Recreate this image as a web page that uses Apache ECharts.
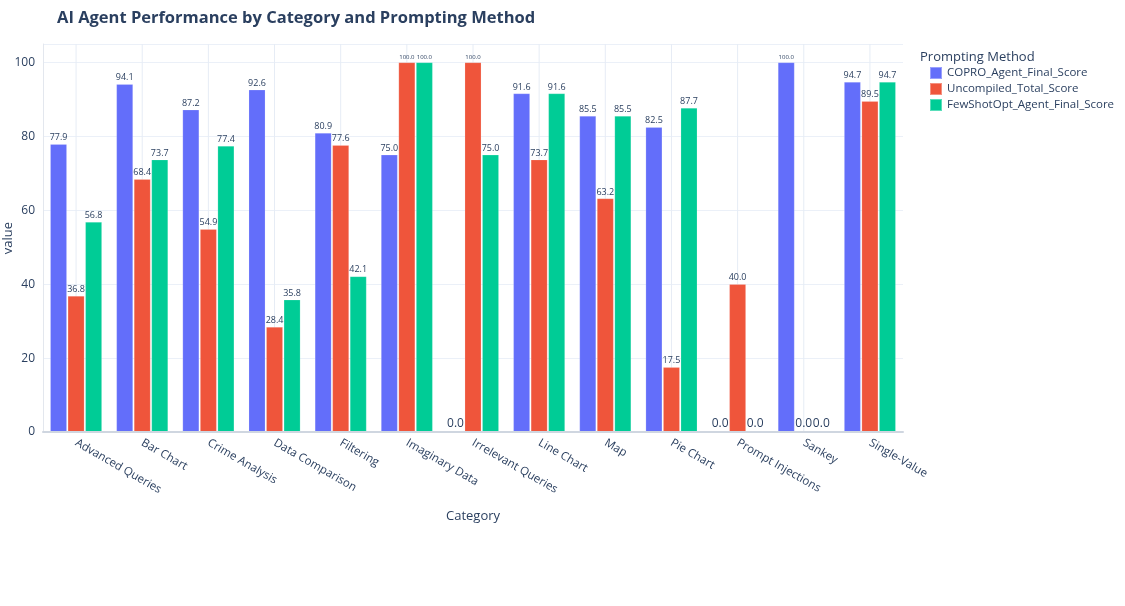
<!DOCTYPE html>
<html><head><meta charset="utf-8">
<script src="https://cdn.jsdelivr.net/npm/echarts@6/dist/echarts.min.js"></script>
<style>html,body{margin:0;padding:0;background:#fff}#c{width:1125px;height:606px}</style>
</head><body><div id="c"></div>
<script>
const categories = ["Advanced Queries","Bar Chart","Crime Analysis","Data Comparison","Filtering","Imaginary Data","Irrelevant Queries","Line Chart","Map","Pie Chart","Prompt Injections","Sankey","Single-Value"];
const copro = [77.9, 94.1, 87.2, 92.6, 80.9, 75.0, 0.0, 91.6, 85.5, 82.5, 0.0, 100.0, 94.7];
const uncompiled = [36.8, 68.4, 54.9, 28.4, 77.6, 100.0, 100.0, 73.7, 63.2, 17.5, 40.0, 0.0, 89.5];
const fewshot = [56.8, 73.7, 77.4, 35.8, 42.1, 100.0, 75.0, 91.6, 85.5, 87.7, 0.0, 0.0, 94.7];
const seriesNames = ["COPRO_Agent_Final_Score","Uncompiled_Total_Score","FewShotOpt_Agent_Final_Score"];
const colors = ["#636efa","#EF553B","#00cc96"];
const yTicks = [0,20,40,60,80,100];
const yMax = 105;

const font = '"Open Sans", "Noto Sans", sans-serif';
const txt = '#2a3f5f';
function mkLabel(){
  return {
    show:true, position:'top', distance:2, color:txt, fontFamily:font,
    formatter:function(p){
      const v = p.value.toFixed(1);
      if (p.value === 0) return '{z|'+v+'}';
      if (p.value >= 100) return '{s|'+v+'}';
      return '{n|'+v+'}';
    },
    rich:{
      n:{fontSize:9, color:txt, fontFamily:font},
      z:{fontSize:12, color:txt, fontFamily:font},
      s:{fontSize:6, color:txt, fontFamily:font}
    }
  };
}
const data = [copro, uncompiled, fewshot];
const series = [{
  // vertical grid lines at category centres (plotly style)
  type:'custom', silent:true, z:1,
  data:categories.map((c,i)=>[i]),
  encode:{x:0},
  renderItem:function(params, api){
    const b = api.coord([api.value(0), 0]);
    const t = api.coord([api.value(0), yMax]);
    return {type:'line', shape:{x1:b[0], y1:b[1], x2:t[0], y2:t[1]},
      style:{stroke:'#e6ecf5', lineWidth:1}};
  }
}];
data.forEach((d,i)=>series.push({
  name:seriesNames[i], type:'bar', data:d,
  itemStyle:{color:colors[i], borderColor:'rgba(255,255,255,0.35)', borderWidth:0.5},
  barGap:'6%', barCategoryGap:'22%',
  label:mkLabel(), z:3
}));

const chart = echarts.init(document.getElementById('c'));
chart.setOption({
  animation:false,
  backgroundColor:'#fff',
  textStyle:{fontFamily:font},
  title:[
    {text:'AI Agent Performance by Category and Prompting Method', left:52, top:5,
     textStyle:{fontSize:16.5, fontWeight:'bold', color:txt, fontFamily:font}},
    {text:'Prompting Method', left:915, top:46,
     textStyle:{fontSize:13, fontWeight:'normal', color:txt, fontFamily:font}}
  ],
  legend:{
    orient:'vertical', left:924, top:61, itemWidth:12, itemHeight:12, itemGap:2,
    icon:'rect', data:seriesNames,
    textStyle:{fontSize:11.5, color:txt, fontFamily:font}
  },
  grid:{left:43, right:222, top:44, bottom:174, containLabel:false, outerBoundsMode:'none'},
  xAxis:{
    type:'category', data:categories,
    name:'Category', nameLocation:'middle', nameGap:78, nameMoveOverlap:false,
    nameTextStyle:{fontSize:13, color:txt, fontFamily:font},
    axisLine:{show:true, lineStyle:{color:'#cfd6e0', width:2}},
    axisTick:{show:false},
    axisLabel:{rotate:-30, color:txt, fontSize:11.5, fontFamily:font, interval:0, margin:10},
    splitLine:{show:false}, splitArea:{show:false}, z:4
  },
  yAxis:{
    type:'value', min:0, max:yMax, interval:20,
    name:'value', nameLocation:'middle', nameGap:28, nameRotate:90, nameMoveOverlap:false,
    nameTextStyle:{fontSize:13, color:txt, fontFamily:font},
    axisLine:{show:true, lineStyle:{color:'#e3e7ee', width:1}},
    axisTick:{show:false},
    axisLabel:{color:txt, fontSize:12, fontFamily:font, margin:8,
      formatter:function(v){return yTicks.indexOf(v)>=0 ? String(v) : '';}},
    splitLine:{show:true, lineStyle:{color:'#ebf0f8', width:1}}
  },
  series:series
});
</script></body></html>
